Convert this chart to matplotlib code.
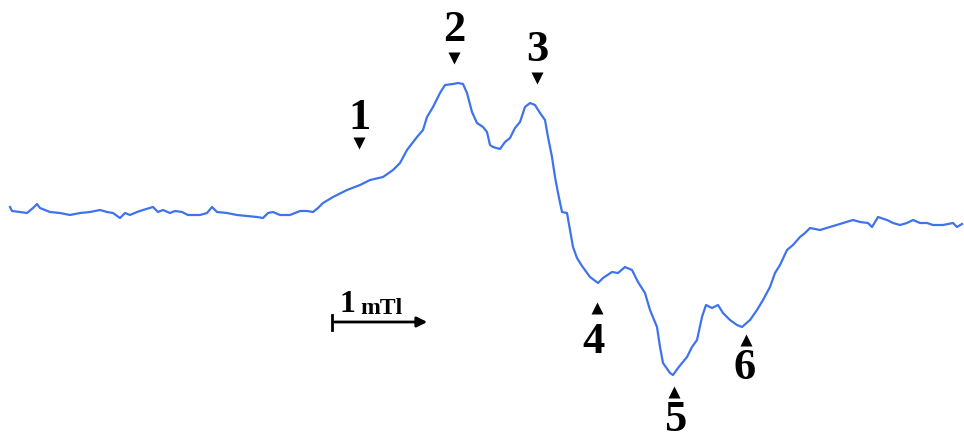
import matplotlib.pyplot as plt

# spectrum trace (picture coordinates, y grows downward)
field_x = [10, 12, 20, 27, 33, 37, 40, 50, 60, 70, 80, 90, 100, 107, 113, 120, 125, 130, 137, 143,
           153, 158, 163, 170, 175, 182, 188, 200, 207, 212, 217, 227, 237, 247, 257, 263, 268, 273,
           280, 290, 300, 307, 313, 318, 323, 333, 347, 360, 370, 383, 393, 400, 407, 417, 423, 427,
           433, 440, 445, 453, 458, 463, 467, 472, 477, 483, 487, 490, 493, 500, 505, 510, 515, 520,
           525, 530, 535, 540, 545, 548, 552, 555, 558, 562, 567, 570, 573, 577, 582, 590, 598, 603,
           612, 618, 625, 632, 638, 645, 650, 657, 660, 663, 670, 673, 678, 687, 692, 697, 702, 706,
           712, 718, 723, 730, 737, 742, 750, 757, 763, 770, 775, 780, 787, 793, 800, 805, 810, 820,
           830, 843, 853, 860, 868, 872, 878, 887, 893, 900, 907, 913, 920, 927, 933, 943, 953, 957, 962]
signal = [207, 211, 212, 213, 208, 204, 208, 212, 213, 215, 213, 212, 210, 212, 213, 218, 213, 215, 212, 210,
          207, 212, 210, 213, 211, 212, 215, 215, 213, 207, 212, 213, 215, 216, 217, 218, 213, 212,
          215, 215, 211, 211, 212, 208, 203, 197, 190, 185, 180, 177, 170, 163, 150, 137, 130, 117,
          107, 93, 85, 84, 83, 84, 93, 112, 123, 127, 132, 145, 147, 149, 142, 138, 128, 122,
          107, 103, 105, 113, 120, 137, 157, 177, 193, 212, 213, 230, 247, 258, 266, 277, 283, 278,
          272, 273, 267, 270, 282, 293, 310, 327, 347, 363, 373, 375, 368, 357, 347, 340, 317, 305,
          308, 305, 313, 320, 325, 327, 320, 310, 300, 287, 273, 265, 250, 245, 237, 233, 228, 230,
          227, 223, 220, 222, 223, 227, 217, 220, 223, 225, 223, 220, 223, 223, 225, 225, 223, 227, 224]

# peak labels
labels = ["1", "2", "3", "4", "5", "6"]
label_x = [360, 454, 537, 594, 675, 745]
label_y = [118, 30, 50, 342, 420, 368]
mark_x = [359, 454, 537, 597, 674, 746]
mark_y = [143, 58, 78, 308, 392, 340]
mark_up = [False, False, False, True, True, True]

fig = plt.figure(figsize=(9.64, 4.41), dpi=100)
ax = fig.add_axes([0, 0, 1, 1])
ax.set_xlim(0, 964)
ax.set_ylim(441, 0)
ax.axis("off")

ax.plot(field_x, signal, color="#3f73ec", lw=1.6)

for t, tx, ty, mx, my, up in zip(labels, label_x, label_y, mark_x, mark_y, mark_up):
    ax.text(tx, ty, t, ha="center", va="center", fontsize=32, fontweight="bold",
            family="Liberation Serif", color="black")
    ax.plot(mx, my, marker="^" if up else "v", color="black", ms=8, mec="none")

# scale bar
ax.annotate("", xy=(430, 322), xytext=(332, 322),
            arrowprops=dict(arrowstyle="-|>", color="black", lw=2, mutation_scale=15))
ax.plot([332, 332], [315, 330], color="black", lw=2)
ax.text(347, 304, "1", ha="center", va="center", fontsize=23, fontweight="bold",
        family="Liberation Serif", color="black")
ax.text(360, 308, "mTl", ha="left", va="center", fontsize=17, fontweight="bold",
        family="Liberation Serif", color="black")

plt.savefig("out.png", dpi=100)
plt.close()
